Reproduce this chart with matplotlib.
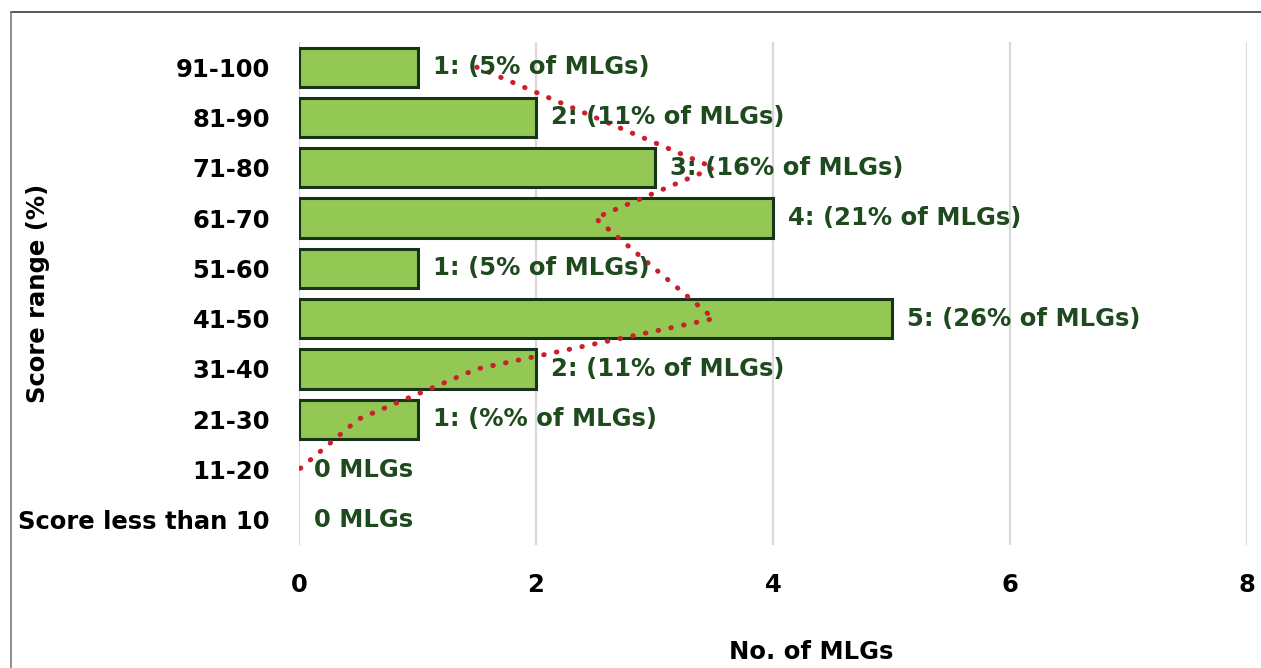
import matplotlib.pyplot as plt
from matplotlib.lines import Line2D

# data, top to bottom as in the chart
categories = ["91-100", "81-90", "71-80", "61-70", "51-60",
              "41-50", "31-40", "21-30", "11-20", "Score less than 10"]
counts = [1, 2, 3, 4, 1, 5, 2, 1, 0, 0]
bar_labels = ["1: (5% of MLGs)", "2: (11% of MLGs)", "3: (16% of MLGs)",
              "4: (21% of MLGs)", "1: (5% of MLGs)", "5: (26% of MLGs)",
              "2: (11% of MLGs)", "1: (%% of MLGs)", "0 MLGs", "0 MLGs"]
# moving-average trend line (91-100 down to 11-20)
trend_cats = categories[:9]
trend_vals = [1.5, 2.5, 3.5, 2.5, 3.0, 3.5, 1.5, 0.5, 0.0]
xticks = [0, 2, 4, 6, 8]

plt.rcParams['font.family'] = ['DejaVu Sans']
plt.rcParams['font.weight'] = 'bold'
FS = 17.5

fig = plt.figure(figsize=(12.61, 6.68), dpi=100)
ax = fig.add_axes([299 / 1261, 123 / 668, 948 / 1261, 503 / 668])

ypos = list(range(len(categories)))
ax.barh(ypos, counts, height=0.78, color='#92C853',
        edgecolor='#183418', linewidth=[2.2 if v > 0 else 0 for v in counts],
        zorder=2)

for y, v, lab in zip(ypos, counts, bar_labels):
    ax.annotate(lab, (v, y), xytext=(11, 0), textcoords='offset points',
                va='center', ha='left', fontsize=FS, fontweight='bold',
                color='#1E4A1E', zorder=4)

ty = [categories.index(c) for c in trend_cats]
ax.plot(trend_vals, ty, color='#CC1F2D', linewidth=3.6,
        linestyle=(0, (0.1, 2.5)), dash_capstyle='round', zorder=3)

ax.set_ylim(len(categories) - 0.5, -0.5)
ax.set_xlim(0, 8)
ax.set_yticks(ypos)
ax.set_yticklabels(categories, fontsize=FS, fontweight='bold')
ax.set_xticks(xticks)
ax.set_xticklabels([str(t) for t in xticks], fontsize=FS, fontweight='bold')
ax.tick_params(axis='y', length=0, pad=21)
ax.tick_params(axis='x', length=0, pad=20)
ax.grid(axis='x', color='#D9D9D9', linewidth=1.6, zorder=0)
ax.set_axisbelow(True)
for s in ax.spines.values():
    s.set_visible(False)

fig.text(38 / 1261, 1 - 293 / 668, "Score range (%)", rotation=90,
         ha='center', va='center', fontsize=FS, fontweight='bold')
fig.text(811 / 1261, 1 - 652 / 668, "No. of MLGs",
         ha='center', va='center', fontsize=FS, fontweight='bold')

# chart frame (top and left edges visible)
fig.add_artist(Line2D([11 / 1261, 1.0], [1 - 12 / 668] * 2,
                      transform=fig.transFigure, color='#3A3A3A', linewidth=1.2))
fig.add_artist(Line2D([11 / 1261] * 2, [0.0, 1 - 12 / 668],
                      transform=fig.transFigure, color='#7A7A7A', linewidth=1.2))

plt.savefig('out.png', dpi=100)
